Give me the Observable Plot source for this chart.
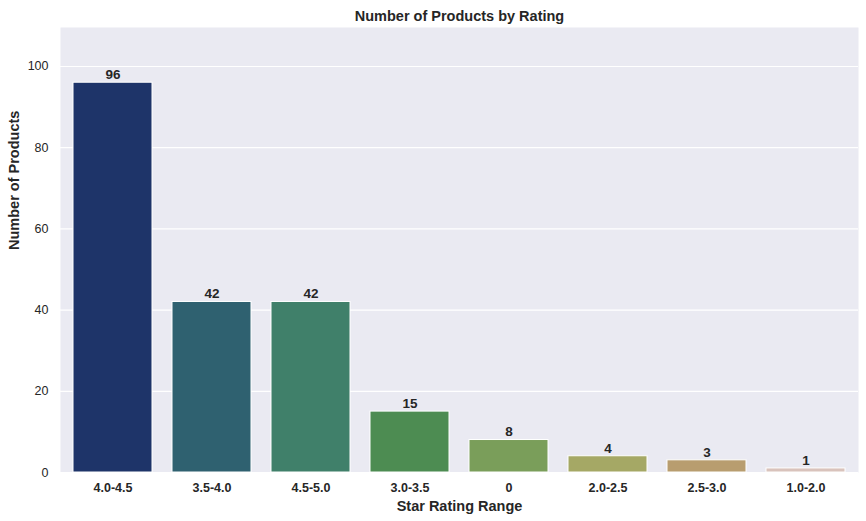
<!DOCTYPE html>
<html><head><meta charset="utf-8">
<script src="https://cdn.jsdelivr.net/npm/d3@7"></script>
<script src="https://cdn.jsdelivr.net/npm/@observablehq/plot@0.6"></script>
<style>body{margin:0;background:#fff;font-family:"Liberation Sans",Arial,sans-serif}</style>
</head><body><div id="chart"></div>
<script>
const categories = ["4.0-4.5","3.5-4.0","4.5-5.0","3.0-3.5","0","2.0-2.5","2.5-3.0","1.0-2.0"];
const counts = [96, 42, 42, 15, 8, 4, 3, 1];
const colors = ["#1e3469","#2f6170","#40806a","#4d8c52","#7a9e5a","#a5a865","#b89d6f","#d9c3bc"];
const yTicks = [0, 20, 40, 60, 80, 100];
const data = categories.map((c, i) => ({cat: c, n: counts[i], color: colors[i]}));

const chart = Plot.plot({
  width: 866, height: 521,
  marginLeft: 60, marginRight: 8, marginTop: 27, marginBottom: 49,
  style: {fontFamily: '"Liberation Sans", Arial, sans-serif', fontSize: "12.5px", color: "#262626", background: "#fff"},
  x: {domain: categories, paddingInner: 0.2, paddingOuter: 0.1, label: null, tickSize: 0, tickPadding: 10},
  y: {domain: [0, 109.6], ticks: yTicks, label: null, tickSize: 0, tickPadding: 12},
  marks: [
    Plot.frame({fill: "#eaeaf2", stroke: null}),
    Plot.gridY(yTicks, {stroke: "#fff", strokeOpacity: 1, strokeWidth: 1.2}),
    Plot.barY(data, {x: "cat", y: "n", fill: "color", stroke: "#fff", strokeWidth: 1}),
    Plot.text(data, {x: "cat", y: "n", text: d => String(d.n), dy: -8, fontWeight: "bold", fontSize: 13.5, fill: "#262626"}),
    Plot.axisX({tickSize: 0, tickPadding: 11, fontWeight: "bold", fontSize: 12.5, label: null}),
    Plot.axisY(yTicks, {tickSize: 0, tickPadding: 12, fontSize: 12.5, label: null}),
    Plot.text(["Number of Products by Rating"], {frameAnchor: "top", dy: -17, fontWeight: "bold", fontSize: 14.5, fill: "#262626"}),
    Plot.text(["Star Rating Range"], {frameAnchor: "bottom", dy: 38, fontWeight: "bold", fontSize: 14.5, fill: "#262626"}),
    Plot.text(["Number of Products"], {frameAnchor: "left", dx: -46, rotate: -90, fontWeight: "bold", fontSize: 14.5, fill: "#262626"})
  ]
});
document.getElementById("chart").append(chart);
</script></body></html>
